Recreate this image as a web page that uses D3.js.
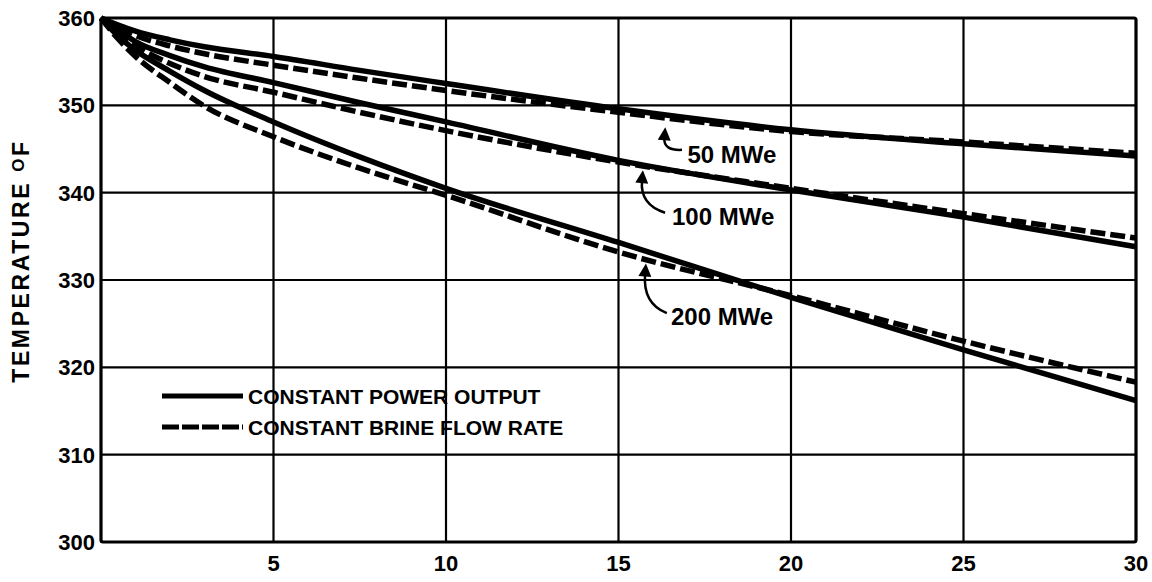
<!DOCTYPE html>
<html>
<head>
<meta charset="utf-8">
<script src="https://cdn.jsdelivr.net/npm/d3@7"></script>
<style>
  body { margin: 0; background: #fff; }
  text { font-family: "Liberation Sans", Arial, Helvetica, sans-serif; font-weight: bold; fill: #000; }
</style>
</head>
<body>
<svg class="chart"></svg>
<script>
const width = 1152;
const height = 582;

// years of operation
const years = [0, 0.5, 1, 2, 3, 5, 7.5, 10, 15, 20, 25, 30];

// constant power output (solid)
const power_50  = [360, 359.2, 358.5, 357.5, 356.7, 355.6, 354.0, 352.5, 349.6, 347.2, 345.6, 344.2];
const power_100 = [360, 358.6, 357.3, 355.7, 354.4, 352.6, 350.3, 348.1, 343.7, 340.3, 337.2, 333.8];
const power_200 = [360, 357.9, 356.3, 353.9, 351.7, 348.1, 344.1, 340.5, 334.3, 328.0, 322.0, 316.2];

// constant brine flow rate (dashed)
const flow_50  = [360, 358.9, 358.0, 356.8, 355.9, 354.6, 353.1, 351.7, 349.2, 347.0, 345.8, 344.5];
const flow_100 = [360, 358.3, 356.8, 354.8, 353.3, 351.5, 349.2, 347.1, 343.5, 340.5, 337.6, 334.8];
const flow_200 = [360, 357.6, 355.6, 352.6, 349.9, 346.4, 342.8, 339.7, 333.2, 328.2, 323.0, 318.3];

const x_ticks = [5, 10, 15, 20, 25, 30];
const y_ticks = [300, 310, 320, 330, 340, 350, 360];

const legend_labels = ["CONSTANT POWER OUTPUT", "CONSTANT BRINE FLOW RATE"];

// curve labels: text spot, arrow tail, bend and tip (years, temperature)
const labels = ["50 MWe", "100 MWe", "200 MWe"];
const label_pos  = [[17.0, 343.4], [16.55, 336.3], [16.52, 324.8]];
const arrow_tail = [[16.84, 344.9], [16.35, 337.7], [16.4, 326.2]];
const arrow_ctrl = [[16.3, 344.8], [15.62, 338.6], [15.7, 327.3]];
const arrow_tip  = [[16.33, 347.5], [15.68, 342.6], [15.77, 331.9]];

const series = [
  {values: power_50, dashed: false}, {values: power_100, dashed: false}, {values: power_200, dashed: false},
  {values: flow_50, dashed: true}, {values: flow_100, dashed: true}, {values: flow_200, dashed: true}
];

const m_left = 101, m_right = 1136, m_top = 18, m_bottom = 542;

const svg = d3.select(".chart").attr("width", width).attr("height", height);

const x = d3.scaleLinear().domain([0, 30]).range([m_left, m_right]);
const y = d3.scaleLinear().domain([300, 360]).range([m_bottom, m_top]);

// grid
const grid = svg.append("g");
grid.selectAll(".vgrid").data(x_ticks.slice(0, -1)).enter().append("line")
    .attr("x1", d => x(d)).attr("x2", d => x(d))
    .attr("y1", m_top).attr("y2", m_bottom)
    .attr("stroke", "#000").attr("stroke-width", 2.2);
grid.selectAll(".hgrid").data(y_ticks.slice(1, -1)).enter().append("line")
    .attr("x1", m_left).attr("x2", m_right)
    .attr("y1", d => y(d)).attr("y2", d => y(d))
    .attr("stroke", "#000").attr("stroke-width", 2.2);

svg.append("rect")
    .attr("x", m_left).attr("y", m_top)
    .attr("width", m_right - m_left).attr("height", m_bottom - m_top)
    .attr("rx", 2)
    .attr("fill", "none").attr("stroke", "#000").attr("stroke-width", 3.2);

// tick labels
svg.append("g").selectAll("text").data(y_ticks).enter().append("text")
    .attr("x", 95).attr("y", d => y(d) + 8)
    .attr("text-anchor", "end")
    .style("font-size", "22px")
    .text(d => d);

svg.append("g").selectAll("text").data(x_ticks).enter().append("text")
    .attr("x", d => x(d)).attr("y", 571)
    .attr("text-anchor", "middle")
    .style("font-size", "22px")
    .text(d => d);

// y axis title
const ytitle = svg.append("text")
    .attr("transform", "translate(29,261) rotate(-90)")
    .attr("text-anchor", "middle")
    .style("font-size", "23px")
    .style("letter-spacing", "2.6px");
ytitle.append("tspan").text("TEMPERATURE ");
ytitle.append("tspan").attr("dy", -5).style("font-size", "17px").text("O");
ytitle.append("tspan").attr("dy", 5).text("F");

// curves
const line = d3.line()
    .x((d, i) => x(years[i]))
    .y(d => y(d))
    .curve(d3.curveMonotoneX);

svg.append("g").selectAll("path").data(series).enter().append("path")
    .attr("d", d => line(d.values))
    .attr("fill", "none")
    .attr("stroke", "#000")
    .attr("stroke-width", 5.5)
    .attr("stroke-dasharray", d => d.dashed ? "15,5" : null);

// arrows + labels
svg.append("defs").append("marker")
    .attr("id", "head")
    .attr("markerUnits", "userSpaceOnUse")
    .attr("viewBox", "0 0 12 12")
    .attr("refX", 2).attr("refY", 6)
    .attr("markerWidth", 14).attr("markerHeight", 13)
    .attr("orient", "auto")
    .append("path").attr("d", "M0,0 L12,6 L0,12 Z").attr("fill", "#000");

const notes = svg.append("g");
notes.selectAll("path").data(labels).enter().append("path")
    .attr("d", (d, i) => {
        const t = arrow_tail[i], c = arrow_ctrl[i], p = arrow_tip[i];
        // stop a bit short so the head ends at the tip
        const ex = x(p[0]), ey = y(p[1]) + 11;
        return `M${x(t[0])},${y(t[1])} Q${x(c[0])},${y(c[1])} ${ex},${ey}`;
    })
    .attr("fill", "none")
    .attr("stroke", "#000")
    .attr("stroke-width", 2.5)
    .attr("marker-end", "url(#head)");

notes.selectAll("text").data(labels).enter().append("text")
    .attr("x", (d, i) => x(label_pos[i][0]))
    .attr("y", (d, i) => y(label_pos[i][1]))
    .style("font-size", "24px")
    .text(d => d);

// legend
const legend = svg.append("g");
legend.selectAll("line").data(legend_labels).enter().append("line")
    .attr("x1", 162).attr("x2", 243)
    .attr("y1", (d, i) => 396 + i * 31).attr("y2", (d, i) => 396 + i * 31)
    .attr("stroke", "#000").attr("stroke-width", 5)
    .attr("stroke-dasharray", (d, i) => i === 1 ? "17,3" : null);
legend.selectAll("text").data(legend_labels).enter().append("text")
    .attr("x", 248).attr("y", (d, i) => 404 + i * 31)
    .style("font-size", "21px")
    .text(d => d);
</script>
</body>
</html>
